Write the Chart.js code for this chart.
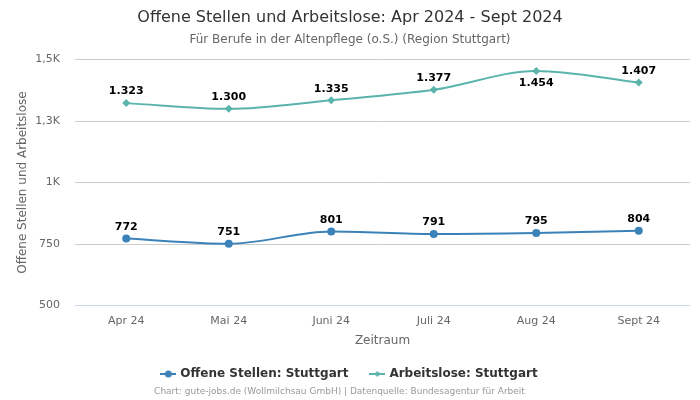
<!DOCTYPE html>
<html>
<head>
<meta charset="utf-8">
<script src="https://cdn.jsdelivr.net/npm/chart.js@4/dist/chart.umd.min.js"></script>
<style>
  body { margin: 0; background: #fff; }
</style>
</head>
<body>
<canvas id="chart" width="700" height="400"></canvas>
<script>
"use strict";

const months = ["Apr 24", "Mai 24", "Juni 24", "Juli 24", "Aug 24", "Sept 24"];
const offeneStellen = [772, 751, 801, 791, 795, 804];
const arbeitslose = [1323, 1300, 1335, 1377, 1454, 1407];
const yTicks = [500, 750, 1000, 1250, 1500];
const yTickLabels = ["500", "750", "1K", "1,3K", "1,5K"];
const labelsBelow = [1454];

const FONT = "'DejaVu Sans', sans-serif";
const BLUE = "#3b82b9";
const TEAL = "#5ab4ac";

// Legend symbol: short line with the marker on top
function legendIcon(colour, diamond) {
    let c = document.createElement("canvas");
    c.width = 16;
    c.height = 10;
    let g = c.getContext("2d");
    g.strokeStyle = colour;
    g.fillStyle = colour;
    g.lineWidth = 2;
    g.beginPath();
    g.moveTo(0, 5);
    g.lineTo(16, 5);
    g.stroke();
    g.beginPath();
    if (diamond) {
        g.moveTo(8, 2);
        g.lineTo(11, 5);
        g.lineTo(8, 8);
        g.lineTo(5, 5);
    } else {
        g.arc(8, 5, 3.5, 0, Math.PI * 2);
    }
    g.fill();
    return c;
}

const legendIcons = [legendIcon(BLUE, false), legendIcon(TEAL, true)];

// Value labels above the points, and the source line at the bottom
const textPlugin = {
    id: "textPlugin",
    afterDatasetsDraw(chart) {
        let ctx = chart.ctx;
        ctx.save();
        ctx.textAlign = "center";
        ctx.textBaseline = "middle";
        ctx.fillStyle = "#000";
        ctx.font = "bold 11px " + FONT;
        chart.data.datasets.forEach((ds, d) => {
            chart.getDatasetMeta(d).data.forEach((pt, i) => {
                let v = ds.data[i];
                let below = labelsBelow.includes(v);
                let text = v >= 1000
                    ? Math.floor(v / 1000) + "." + String(v % 1000).padStart(3, "0")
                    : String(v);
                ctx.fillText(text, pt.x, pt.y + (below ? 12 : -11.5));
            });
        });
        ctx.fillStyle = "#999";
        ctx.font = "9px " + FONT;
        ctx.fillText("Chart: gute-jobs.de (Wollmilchsau GmbH) | Datenquelle: Bundesagentur für Arbeit", 339.5, 392);
        ctx.restore();
    }
};

new Chart(document.getElementById("chart").getContext("2d"), {
    type: "line",
    data: {
        labels: months,
        datasets: [
            {
                label: "Offene Stellen: Stuttgart",
                data: offeneStellen,
                borderColor: BLUE,
                backgroundColor: BLUE,
                borderWidth: 2,
                pointStyle: "circle",
                pointRadius: 4,
                pointBorderWidth: 0,
                cubicInterpolationMode: "monotone"
            },
            {
                label: "Arbeitslose: Stuttgart",
                data: arbeitslose,
                borderColor: TEAL,
                backgroundColor: TEAL,
                borderWidth: 2,
                pointStyle: "rectRot",
                pointRadius: 4,
                pointBorderWidth: 0,
                cubicInterpolationMode: "monotone"
            }
        ]
    },
    options: {
        responsive: false,
        animation: false,
        layout: { padding: { left: 10, right: 10, top: 0, bottom: 10 } },
        plugins: {
            tooltip: { enabled: false },
            title: {
                display: true,
                text: "Offene Stellen und Arbeitslose: Apr 2024 - Sept 2024",
                color: "#333",
                font: { family: FONT, size: 16, weight: "normal" },
                padding: { top: 8, bottom: 3 }
            },
            subtitle: {
                display: true,
                text: "Für Berufe in der Altenpflege (o.S.) (Region Stuttgart)",
                color: "#666",
                font: { family: FONT, size: 12, weight: "normal" },
                padding: { top: 2, bottom: 13 }
            },
            legend: {
                position: "bottom",
                labels: {
                    usePointStyle: true,
                    color: "#333",
                    font: { family: FONT, size: 12, weight: "bold" },
                    padding: 23,
                    generateLabels(chart) {
                        let items = Chart.defaults.plugins.legend.labels.generateLabels(chart);
                        items.forEach((item, i) => { item.pointStyle = legendIcons[i]; });
                        return items;
                    }
                }
            }
        },
        scales: {
            x: {
                offset: true,
                afterFit(axis) {
                    axis.height = 39.5;
                },
                grid: { display: false },
                border: { display: false },
                ticks: { color: "#666", font: { family: FONT, size: 11 }, padding: 1, maxRotation: 0 },
                title: {
                    display: true,
                    text: "Zeitraum",
                    color: "#666",
                    font: { family: FONT, size: 12 },
                    padding: { top: 0, bottom: -3 }
                }
            },
            y: {
                min: 500,
                max: 1500,
                afterBuildTicks(axis) {
                    axis.ticks = yTicks.map(v => ({ value: v }));
                },
                afterFit(axis) {
                    axis.width = 65;
                },
                grid: {
                    drawTicks: false,
                    color: c => c.tick.value == 500 ? "#ccd6eb" : "#cccccc"
                },
                border: { display: false },
                ticks: {
                    color: "#666",
                    font: { family: FONT, size: 11 },
                    padding: 15,
                    callback: v => yTickLabels[yTicks.indexOf(v)]
                },
                title: {
                    display: true,
                    text: "Offene Stellen und Arbeitslose",
                    color: "#666",
                    font: { family: FONT, size: 12 },
                    padding: { top: 6, bottom: 0 }
                }
            }
        }
    },
    plugins: [textPlugin]
});
</script>
</body>
</html>
